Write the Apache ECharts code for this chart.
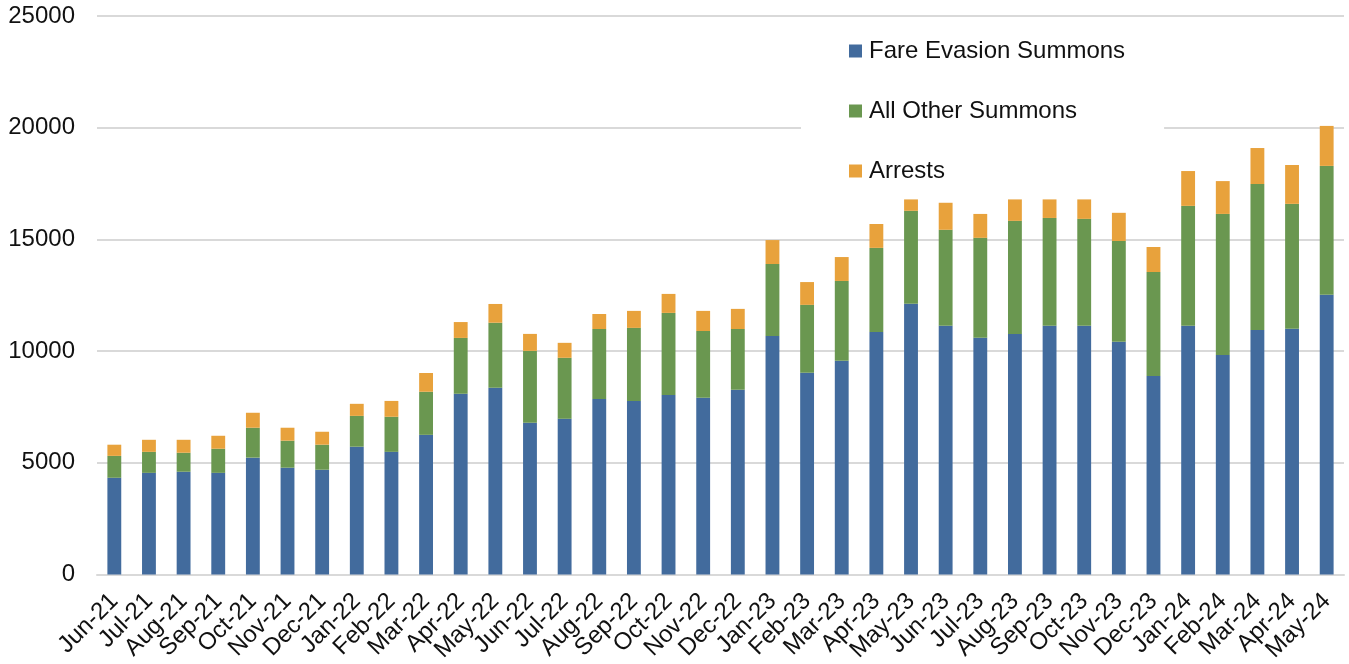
<!DOCTYPE html>
<html><head><meta charset="utf-8">
<script src="https://cdn.jsdelivr.net/npm/echarts@6/dist/echarts.min.js"></script>
<style>html,body{margin:0;padding:0;background:#fff}#c{width:1349px;height:664px}</style>
</head><body><div id="c"></div>
<script>
const categories = ['Jun-21','Jul-21','Aug-21','Sep-21','Oct-21','Nov-21','Dec-21','Jan-22','Feb-22','Mar-22','Apr-22','May-22','Jun-22','Jul-22','Aug-22','Sep-22','Oct-22','Nov-22','Dec-22','Jan-23','Feb-23','Mar-23','Apr-23','May-23','Jun-23','Jul-23','Aug-23','Sep-23','Oct-23','Nov-23','Dec-23','Jan-24','Feb-24','Mar-24','Apr-24','May-24'];
const fareEvasion = [4330,4550,4600,4550,5230,4780,4690,5720,5490,6250,8090,8360,6790,6970,7860,7770,8040,7910,8270,10680,9030,9570,10860,12120,11130,10600,10770,11130,11130,10420,8890,11130,9830,10950,11000,12520];
const otherSummons = [980,940,850,1080,1340,1210,1120,1380,1570,1930,2500,2910,3220,2730,3130,3270,3670,2990,2720,3220,3040,3570,3760,4160,4300,4470,5060,4830,4790,4510,4650,5370,6310,6530,5590,5770];
const arrests = [500,540,580,580,670,580,580,540,710,840,710,840,760,670,670,760,850,900,900,1070,1020,1070,1070,510,1210,1070,960,830,870,1260,1120,1560,1470,1610,1740,1790];
const seriesNames = ['Fare Evasion Summons','All Other Summons','Arrests'];
const colors = ['#426B9D','#6A9750','#E8A23C'];
const yTicks = {min:0, max:25000, interval:5000};

const font = "'Liberation Sans', Arial, sans-serif";
const chart = echarts.init(document.getElementById('c'), null, {renderer:'canvas'});
const dataSets = [fareEvasion, otherSummons, arrests];
chart.setOption({
  animation:false,
  backgroundColor:'#fff',
  grid:{left:97, right:5, top:16, bottom:89.5, containLabel:false, outerBoundsMode:'none'},
  legend:{
    orient:'vertical', left:801, top:21,
    padding:[18,39,14,48],
    backgroundColor:'#fff',
    itemWidth:13, itemHeight:13, itemGap:36,
    icon:'rect',
    textStyle:{fontFamily:font, fontSize:24, color:'#111', lineHeight:24, padding:[0,0,0,2]},
    data:seriesNames
  },
  xAxis:{
    type:'category', data:categories,
    axisLine:{lineStyle:{color:'#d9d9d9', width:2}},
    axisTick:{show:false},
    axisLabel:{interval:0, rotate:45, margin:23, fontFamily:font, fontSize:24, color:'#111'}
  },
  yAxis:{
    type:'value', min:yTicks.min, max:yTicks.max, interval:yTicks.interval,
    axisLine:{show:false}, axisTick:{show:false},
    splitLine:{lineStyle:{color:'#d9d9d9', width:2}},
    axisLabel:{margin:22, fontFamily:font, fontSize:24, color:'#111', formatter:(v)=>String(v)}
  },
  series: seriesNames.map((n,i)=>({
    name:n, type:'bar', stack:'total', barWidth:'40%',
    itemStyle:{color:colors[i]},
    data:dataSets[i]
  }))
});
</script></body></html>
